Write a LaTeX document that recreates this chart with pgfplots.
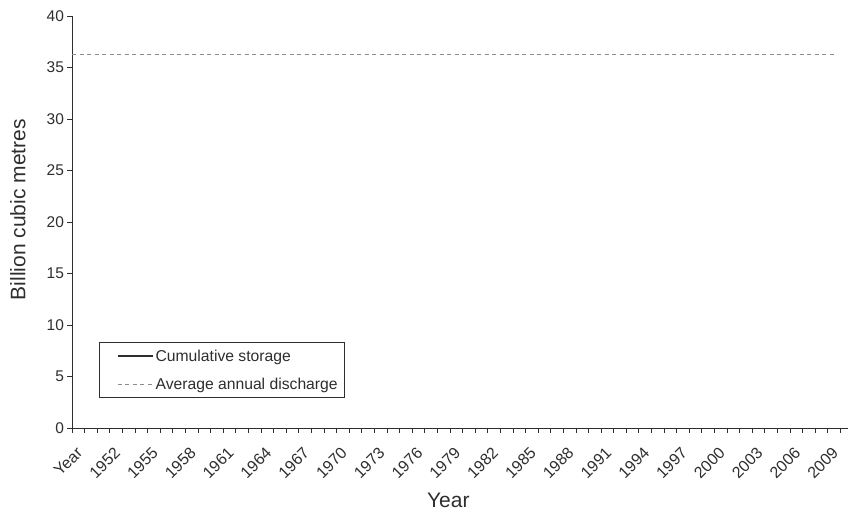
\documentclass[border=0pt]{standalone}
\usepackage{pgfplots}
\pgfplotsset{compat=1.18}
\usepackage{fontspec}
\setmainfont{Liberation Sans}
\definecolor{axisgray}{HTML}{2E2E2E}
\definecolor{dashgray}{HTML}{8C8C8C}

\begin{document}
\begin{tikzpicture}
\begin{axis}[
  width=776pt, height=412pt, scale only axis,
  xmin=0, xmax=61.6, ymin=0, ymax=40,
  axis x line=bottom, axis y line=left,
  axis line style={-, color=axisgray, line width=0.9pt},
  xtick={0,3,...,60},
  xticklabels={Year,1952,1955,1958,1961,1964,1967,1970,1973,1976,1979,1982,1985,1988,1991,1994,1997,2000,2003,2006,2009},
  minor xtick={1,...,61},
  ytick={0,5,...,40},
  tick align=outside,
  major tick length=4.5pt, minor tick length=4.5pt,
  tick style={color=axisgray, line width=0.8pt},
  /pgf/number format/assume math mode=true,
  yticklabel style={font=\fontsize{15.5}{16}\selectfont, color=axisgray},
  xticklabel style={font=\fontsize{16}{17}\selectfont, color=axisgray,
    rotate=45, anchor=north east, inner sep=1pt, xshift=-6pt, yshift=-11pt},
  xlabel={Year}, ylabel={Billion cubic metres},
  label style={font=\fontsize{21}{23}\selectfont, color=axisgray},
  xlabel style={at={(axis description cs:0.485,-0.176)}, anchor=center},
  ylabel style={at={(axis description cs:-0.0696,0.53)}, anchor=center},
  legend style={at={(axis description cs:0.035,0.073)}, anchor=south west,
    draw=axisgray, line width=0.8pt, font=\fontsize{15.7}{16}\selectfont,
    text=axisgray, row sep=11pt, inner xsep=5pt, inner ysep=5pt},
  legend cell align=left,
  legend image code/.code={\path (0pt,0pt); \draw[#1] (12pt,0pt) -- (47pt,0pt);},
]
\addlegendimage{line width=2pt, color=axisgray}
\addlegendentry{Cumulative storage}
\addplot[dashgray, line width=0.8pt, dash pattern=on 4pt off 3.5pt] coordinates {(0,36.3) (60.6,36.3)};
\addlegendentry{Average annual discharge}
\coordinate (bl) at (rel axis cs:0,0);
\coordinate (tr) at (rel axis cs:1,1);
\end{axis}
\pgfresetboundingbox
\path[use as bounding box] ([xshift=-72pt,yshift=-83pt]bl) rectangle ([xshift=1pt,yshift=16pt]tr);
\end{tikzpicture}
\end{document}
